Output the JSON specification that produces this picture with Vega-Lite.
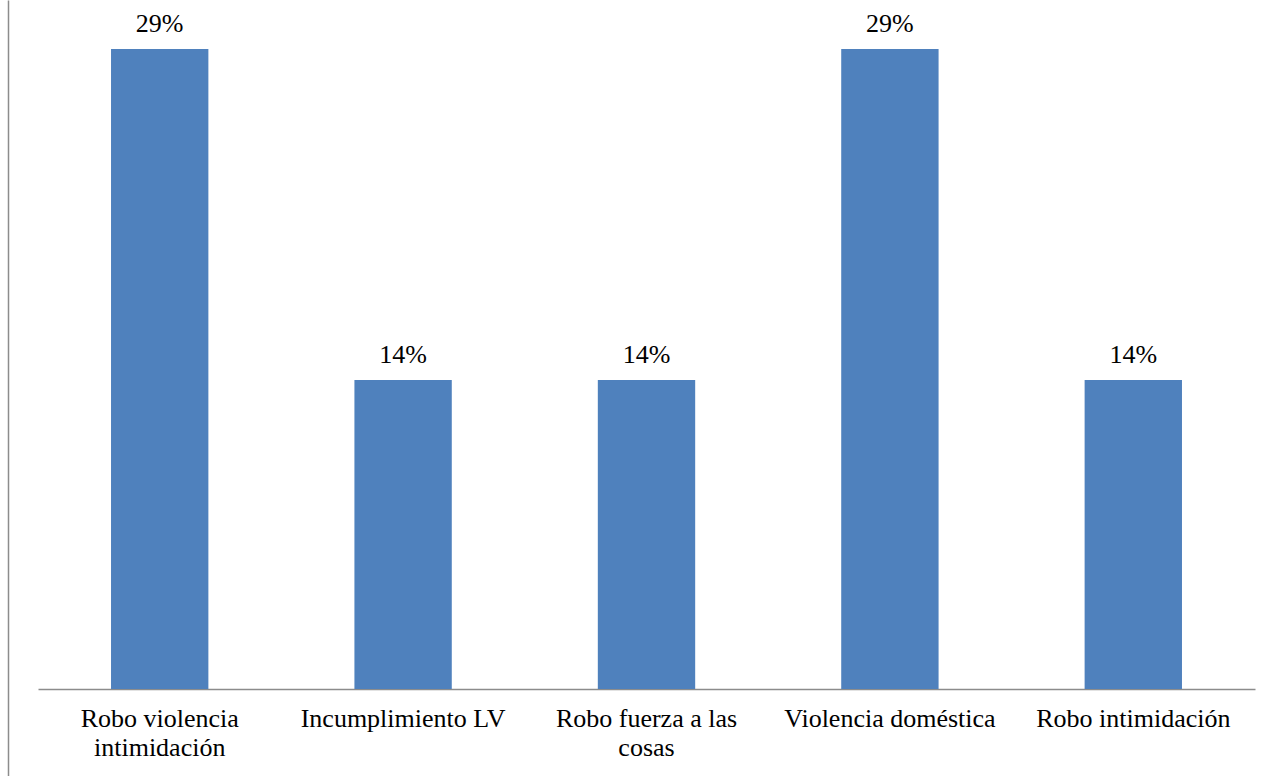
{
  "$schema": "https://vega.github.io/schema/vega-lite/v6.json",
  "autosize": "none",
  "padding": {"left": 38, "top": 0, "right": 19, "bottom": 0},
  "width": 1217,
  "height": 776,
  "background": "white",
  "config": {"view": {"stroke": null}, "font": "Liberation Serif"},
  "data": {"values": [
    {"categoria": "Robo violencia intimidación", "valor": 0.29},
    {"categoria": "Incumplimiento LV", "valor": 0.14},
    {"categoria": "Robo fuerza a las cosas", "valor": 0.14},
    {"categoria": "Violencia doméstica", "valor": 0.29},
    {"categoria": "Robo intimidación", "valor": 0.14}
  ]},
  "encoding": {
    "x": {
      "field": "categoria", "type": "nominal", "sort": null,
      "scale": {"paddingInner": 0.6, "paddingOuter": 0.3},
      "axis": {
        "title": null, "offset": -87, "labelAngle": 0, "ticks": false,
        "domainColor": "#8c8c8c", "domainWidth": 1.5,
        "labelFont": "Liberation Serif", "labelFontSize": 26, "labelColor": "#000000",
        "labelPadding": 16, "labelLineHeight": 29, "labelBaseline": "top", "labelLimit": 400,
        "labelExpr": "datum.value == 'Robo violencia intimidación' ? ['Robo violencia', 'intimidación'] : datum.value == 'Robo fuerza a las cosas' ? ['Robo fuerza a las', 'cosas'] : datum.value"
      }
    },
    "y": {
      "field": "valor", "type": "quantitative",
      "scale": {"domain": [-0.0394, 0.3122], "nice": false},
      "axis": {"title": null, "offset": 30, "ticks": false, "labels": false, "grid": false, "domainColor": "#8c8c8c", "domainWidth": 1.5}
    }
  },
  "layer": [
    {"mark": {"type": "bar", "color": "#4F81BD"}},
    {"mark": {"type": "text", "baseline": "alphabetic", "dy": -17, "font": "Liberation Serif", "fontSize": 26, "color": "#000000"},
     "encoding": {"text": {"field": "valor", "type": "quantitative", "format": ".0%"}}}
  ]
}
